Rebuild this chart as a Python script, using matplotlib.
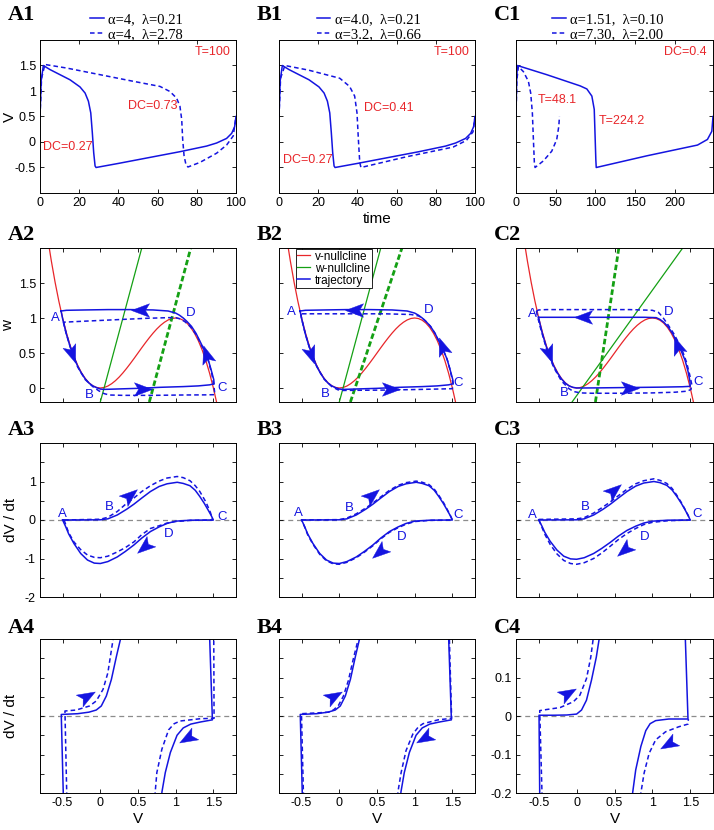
import numpy as np
import matplotlib.pyplot as plt
from matplotlib.path import Path
from matplotlib.markers import MarkerStyle
from matplotlib.transforms import Affine2D

plt.rcParams['font.family'] = ['Liberation Sans', 'DejaVu Sans']

BLUE = '#1414e0'
RED = '#e8262a'
GREEN = '#14a014'
GRAY = '#8c8c8c'

# ---------------- row 1: V(t) ----------------
t_a1 = [0, 0.6, 1.7, 5.1, 10.2, 15.3, 20.4, 23.0, 24.7, 25.9, 26.7, 27.4, 28.1, 28.6, 40, 55, 71.4, 85, 90.1, 95.2, 97.8, 99.3, 100]
v_a1 = [0.5, 1.2, 1.5, 1.42, 1.32, 1.22, 1.08, 0.96, 0.80, 0.57, 0.18, -0.21, -0.47, -0.5, -0.42, -0.31, -0.19, -0.08, -0.02, 0.07, 0.17, 0.3, 0.5]
t_a1d = [0, 0.8, 2.5, 13.6, 30.6, 47.6, 61.2, 66.3, 69.7, 71.4, 72.3, 72.8, 73.5, 74.5, 75.5, 81.6, 90.1, 95.2, 98.6, 100]
v_a1d = [0.5, 1.25, 1.52, 1.45, 1.32, 1.19, 1.09, 0.99, 0.86, 0.70, 0.44, 0.05, -0.27, -0.45, -0.49, -0.40, -0.22, -0.06, 0.12, 0.5]
t_b1d = [0, 0.8, 3, 15, 31, 36, 38.6, 39.8, 40.5, 41.2, 41.8, 65, 88.8, 95.6, 99, 100]
v_b1d = [0.5, 1.25, 1.5, 1.41, 1.25, 1.09, 0.90, 0.57, 0.05, -0.40, -0.5, -0.29, -0.10, 0.03, 0.2, 0.5]
t_c1 = [0, 0.8, 1.7, 38.7, 80.8, 89.2, 95.5, 98.5, 99.7, 100.5, 101, 165, 228.5, 241, 246.5, 248]
v_c1 = [0.5, 1.2, 1.5, 1.32, 1.10, 1.04, 0.90, 0.64, 0.05, -0.35, -0.5, -0.27, -0.06, 0.05, 0.21, 0.5]
t_c1d = [0, 1, 3, 9.3, 15.6, 18.5, 20.6, 21.9, 23.1, 24, 34.5, 45, 51.3, 53.9, 54.7]
v_c1d = [0.5, 1.2, 1.48, 1.38, 1.19, 0.96, 0.57, 0.05, -0.4, -0.5, -0.37, -0.18, 0.05, 0.31, 0.5]

legend1 = [['α=4,  λ=0.21', 'α=4,  λ=2.78'],
           ['α=4.0,  λ=0.21', 'α=3.2,  λ=0.66'],
           ['α=1.51,  λ=0.10', 'α=7.30,  λ=2.00']]
corner_text = ['T=100', 'T=100', 'DC=0.4']
notes1 = [[('DC=0.73', 44.9, 0.70), ('DC=0.27', 1.5, -0.10)],
          [('DC=0.41', 43.4, 0.67), ('DC=0.27', 2.0, -0.35)],
          [('T=48.1', 27.8, 0.83), ('T=224.2', 103.5, 0.41)]]

# ---------------- row 2: phase plane ----------------
null_v = [-0.7, -0.65, -0.6, -0.55, -0.5, -0.45, -0.4, -0.35, -0.3, -0.25, -0.2, -0.15, -0.1, -0.05, 0.0,
          0.05, 0.1, 0.15, 0.2, 0.25, 0.3, 0.35, 0.4, 0.45, 0.5, 0.55, 0.6, 0.65, 0.7, 0.75, 0.8, 0.85, 0.9, 0.95, 1.0,
          1.05, 1.1, 1.15, 1.2, 1.25, 1.3, 1.35, 1.4, 1.45, 1.5, 1.55]
null_w = [2.156, 1.817, 1.512, 1.240, 1.0, 0.790, 0.608, 0.453, 0.324, 0.219, 0.136, 0.074, 0.032, 0.008, 0.0,
          0.007, 0.028, 0.061, 0.104, 0.156, 0.216, 0.282, 0.352, 0.425, 0.5, 0.575, 0.648, 0.718, 0.784, 0.844, 0.896, 0.939, 0.972, 0.993, 1.0,
          0.992, 0.968, 0.926, 0.864, 0.781, 0.676, 0.547, 0.392, 0.210, 0.0, -0.24]

wnull_a = ([0.0, 0.55], [-0.2, 2.0])
wnull_a_d = ([0.65, 1.2], [-0.2, 2.0])
wnull_b = ([0.0, 0.55], [-0.2, 2.0])
wnull_b_d = ([0.147, 0.831], [-0.2, 2.0])
wnull_c = ([-0.06, 1.40], [-0.2, 2.0])
wnull_c_d = ([0.248, 0.557], [-0.2, 2.0])

v_a2 = [-0.52, -0.50, -0.45, -0.40, -0.35, -0.30, -0.25, -0.20, -0.15, -0.10, -0.05, 0.00, 0.05, 0.20, 0.50, 0.80, 1.10, 1.30, 1.45, 1.51, 1.505, 1.47, 1.43, 1.38, 1.33, 1.27, 1.21, 1.15, 1.10, 1.05, 1.00, 0.90, 0.70, 0.40, 0.10, -0.20, -0.45, -0.52]
w_a2 = [1.10, 0.99, 0.77, 0.59, 0.44, 0.31, 0.21, 0.13, 0.07, 0.03, 0.005, -0.015, -0.02, -0.015, -0.005, 0.01, 0.02, 0.03, 0.045, 0.06, 0.12, 0.26, 0.41, 0.54, 0.65, 0.78, 0.88, 0.95, 1.00, 1.04, 1.07, 1.10, 1.115, 1.12, 1.12, 1.115, 1.11, 1.10]
v_a2d = [-0.49, -0.47, -0.45, -0.40, -0.35, -0.30, -0.20, -0.10, -0.02, 0.05, 0.12, 0.30, 0.70, 1.10, 1.40, 1.52, 1.51, 1.48, 1.43, 1.36, 1.28, 1.20, 1.12, 1.05, 1.00, 0.90, 0.60, 0.30, 0.00, -0.30, -0.49]
w_a2d = [0.94, 0.85, 0.77, 0.59, 0.43, 0.30, 0.12, 0.02, -0.04, -0.08, -0.10, -0.105, -0.105, -0.10, -0.098, -0.095, 0.0, 0.2, 0.40, 0.57, 0.75, 0.87, 0.95, 0.99, 1.005, 1.005, 0.995, 0.98, 0.965, 0.95, 0.94]
v_b2d = [-0.51, -0.50, -0.45, -0.40, -0.35, -0.30, -0.20, -0.10, -0.02, 0.05, 0.20, 0.60, 1.00, 1.30, 1.50, 1.51, 1.47, 1.43, 1.38, 1.33, 1.27, 1.21, 1.15, 1.10, 1.05, 0.95, 0.60, 0.20, -0.20, -0.51]
w_b2d = [1.06, 0.99, 0.77, 0.59, 0.44, 0.31, 0.125, 0.02, -0.025, -0.035, -0.033, -0.03, -0.022, -0.015, -0.01, 0.06, 0.26, 0.41, 0.54, 0.65, 0.78, 0.88, 0.95, 1.0, 1.03, 1.05, 1.06, 1.06, 1.06, 1.06]
v_c2 = [-0.503, -0.48, -0.45, -0.40, -0.35, -0.30, -0.25, -0.20, -0.15, -0.10, -0.05, 0.00, 0.05, 0.30, 0.70, 1.10, 1.40, 1.50, 1.495, 1.47, 1.43, 1.38, 1.33, 1.27, 1.21, 1.15, 1.10, 1.05, 0.90, 0.50, 0.00, -0.30, -0.503]
w_c2 = [1.01, 0.90, 0.77, 0.59, 0.44, 0.31, 0.21, 0.13, 0.07, 0.03, 0.01, 0.0, 0.0, 0.002, 0.007, 0.012, 0.018, 0.024, 0.10, 0.24, 0.40, 0.53, 0.64, 0.77, 0.87, 0.94, 0.98, 1.005, 1.01, 1.01, 1.01, 1.01, 1.01]
v_c2d = [-0.53, -0.52, -0.48, -0.44, -0.40, -0.35, -0.30, -0.20, -0.10, -0.04, 0.05, 0.20, 0.60, 1.00, 1.30, 1.46, 1.51, 1.52, 1.49, 1.45, 1.40, 1.34, 1.28, 1.22, 1.17, 1.13, 1.08, 1.00, 0.70, 0.30, -0.10, -0.40, -0.50, -0.53]
w_c2d = [1.10, 1.04, 0.87, 0.72, 0.57, 0.42, 0.29, 0.10, -0.01, -0.05, -0.07, -0.075, -0.075, -0.07, -0.06, -0.045, -0.02, 0.05, 0.20, 0.37, 0.52, 0.66, 0.78, 0.88, 0.96, 1.02, 1.08, 1.11, 1.12, 1.12, 1.12, 1.12, 1.115, 1.10]

arrows2 = [[(0.52, 1.12, 180), (-0.37, 0.49, -70), (0.56, -0.01, 0), (1.40, 0.48, 108)],
           [(0.19, 1.115, 180), (-0.37, 0.47, -70), (0.69, -0.01, 0), (1.36, 0.60, 110)],
           [(0.09, 1.01, 180), (-0.36, 0.49, -70), (0.71, 0.005, 0), (1.33, 0.62, 110)]]
letters2 = [[('A', -0.59, 1.0), ('B', -0.15, -0.105), ('C', 1.62, 0.0), ('D', 1.2, 1.07)],
            [('A', -0.63, 1.08), ('B', -0.18, -0.087), ('C', 1.58, 0.07), ('D', 1.18, 1.115)],
            [('A', -0.59, 1.06), ('B', -0.16, -0.075), ('C', 1.60, 0.08), ('D', 1.21, 1.085)]]

# ---------------- row 3: dV/dt vs V ----------------
v_loop = [-0.5, 0.0, 0.1, 0.225, 0.35, 0.445, 0.55, 0.665, 0.78, 0.885, 1.02, 1.1, 1.19, 1.26, 1.32, 1.38, 1.43, 1.47, 1.5,
          1.2, 1.0, 0.885, 0.78, 0.665, 0.55, 0.445, 0.33, 0.225, 0.1, 0.0, -0.08, -0.17, -0.26, -0.35, -0.42, -0.46, -0.5]
dv_a3 = [0.0, 0.005, 0.03, 0.13, 0.28, 0.41, 0.57, 0.74, 0.87, 0.94, 0.98, 0.95, 0.89, 0.77, 0.61, 0.43, 0.26, 0.12, 0.0,
         -0.005, -0.03, -0.09, -0.18, -0.30, -0.47, -0.65, -0.82, -0.96, -1.08, -1.13, -1.12, -1.04, -0.87, -0.61, -0.36, -0.17, 0.0]
v_a3d = [-0.48, 0.0, 0.1, 0.225, 0.33, 0.445, 0.55, 0.665, 0.78, 0.885, 1.02, 1.1, 1.19, 1.26, 1.32, 1.40, 1.46, 1.49,
         1.2, 1.0, 0.885, 0.78, 0.665, 0.55, 0.445, 0.33, 0.225, 0.1, 0.0, -0.08, -0.17, -0.26, -0.35, -0.42, -0.45, -0.48]
dv_a3d = [0.0, 0.02, 0.07, 0.22, 0.40, 0.57, 0.74, 0.89, 1.01, 1.09, 1.13, 1.10, 1.02, 0.89, 0.74, 0.47, 0.20, 0.0,
          -0.01, -0.04, -0.08, -0.15, -0.22, -0.38, -0.57, -0.72, -0.83, -0.94, -0.98, -0.97, -0.91, -0.77, -0.57, -0.33, -0.17, 0.0]
dv_b3d = [0.0, 0.01, 0.05, 0.16, 0.31, 0.44, 0.60, 0.77, 0.90, 0.97, 1.01, 0.98, 0.92, 0.80, 0.64, 0.46, 0.28, 0.13, 0.0,
          -0.01, -0.04, -0.11, -0.20, -0.32, -0.49, -0.67, -0.84, -0.98, -1.10, -1.15, -1.14, -1.06, -0.89, -0.63, -0.38, -0.18, 0.0]
dv_c3 = [0.0, 0.005, 0.03, 0.13, 0.28, 0.41, 0.57, 0.74, 0.88, 0.96, 1.0, 0.97, 0.90, 0.78, 0.62, 0.44, 0.27, 0.12, 0.0,
         -0.005, -0.03, -0.08, -0.16, -0.27, -0.42, -0.58, -0.74, -0.87, -0.98, -1.02, -1.01, -0.94, -0.78, -0.55, -0.32, -0.15, 0.0]
dv_c3d = [0.015, 0.03, 0.06, 0.18, 0.34, 0.47, 0.63, 0.80, 0.94, 1.02, 1.07, 1.03, 0.95, 0.82, 0.65, 0.46, 0.28, 0.13, 0.0,
          -0.02, -0.06, -0.12, -0.22, -0.35, -0.51, -0.68, -0.86, -1.0, -1.11, -1.15, -1.13, -1.05, -0.88, -0.63, -0.37, -0.18, 0.015]

arrows3 = [[(0.40, 0.65, 40), (0.58, -0.70, 220)],
           [(0.44, 0.65, 40), (0.53, -0.83, 220)],
           [(0.49, 0.78, 40), (0.62, -0.78, 220)]]
letters3 = [[('A', -0.5, 0.16), ('B', 0.115, 0.33), ('C', 1.61, 0.09), ('D', 0.906, -0.37)],
            [('A', -0.54, 0.17), ('B', 0.13, 0.30), ('C', 1.57, 0.13), ('D', 0.83, -0.43)],
            [('A', -0.59, 0.13), ('B', 0.12, 0.33), ('C', 1.59, 0.16), ('D', 0.90, -0.43)]]

# ---------------- row 4: zoom of dV/dt vs V ----------------
up_v_a4 = [-0.485, -0.518, -0.30, -0.15, -0.054, 0.013, 0.08, 0.147, 0.214, 0.268, 0.285]
up_y_a4 = [-0.25, 0.004, 0.006, 0.01, 0.0155, 0.026, 0.052, 0.095, 0.155, 0.2, 0.22]
lo_v_a4 = [0.81, 0.817, 0.862, 0.929, 1.018, 1.10, 1.2, 1.33, 1.487, 1.451, 1.448]
lo_y_a4 = [-0.25, -0.198, -0.147, -0.095, -0.050, -0.031, -0.021, -0.0155, -0.010, 0.2, 0.25]
up_v_a4d = [-0.44, -0.469, -0.32, -0.143, -0.054, 0.036, 0.10, 0.17, 0.18]
up_y_a4d = [-0.25, 0.013, 0.0155, 0.026, 0.039, 0.069, 0.112, 0.2, 0.22]
lo_v_a4d = [0.72, 0.728, 0.75, 0.817, 0.906, 0.98, 1.06, 1.33, 1.509, 1.505, 1.505]
lo_y_a4d = [-0.25, -0.198, -0.147, -0.086, -0.036, -0.020, -0.013, -0.007, -0.006, 0.2, 0.25]
up_v_b4d = [-0.47, -0.502, -0.3, -0.14, -0.075, -0.01, 0.055, 0.12, 0.19, 0.252, 0.265]
up_y_b4d = [-0.25, 0.006, 0.008, 0.01, 0.016, 0.028, 0.052, 0.092, 0.152, 0.2, 0.22]
lo_v_b4d = [0.77, 0.777, 0.82, 0.885, 0.975, 1.05, 1.11, 1.31, 1.49, 1.46, 1.458]
lo_y_b4d = [-0.25, -0.198, -0.147, -0.09, -0.047, -0.028, -0.02, -0.01, -0.006, 0.2, 0.25]
up_v_c4 = [-0.485, -0.496, -0.3, -0.13, 0.0, 0.065, 0.13, 0.196, 0.26, 0.296, 0.305]
up_y_c4 = [-0.25, 0.002, 0.002, 0.0026, 0.005, 0.0155, 0.041, 0.093, 0.153, 0.198, 0.22]
lo_v_c4 = [0.73, 0.739, 0.78, 0.848, 0.913, 0.97, 1.043, 1.217, 1.47, 1.435, 1.432]
lo_y_c4 = [-0.25, -0.2, -0.14, -0.079, -0.038, -0.020, -0.012, -0.0078, -0.0078, 0.2, 0.25]
up_v_c4d = [-0.45, -0.487, -0.39, -0.217, -0.043, 0.043, 0.13, 0.187, 0.217, 0.225]
up_y_c4d = [-0.25, 0.014, 0.017, 0.022, 0.037, 0.054, 0.097, 0.153, 0.198, 0.22]
lo_v_c4d = [0.84, 0.848, 0.891, 0.957, 1.043, 1.174, 1.348, 1.47, 1.475]
lo_y_c4d = [-0.25, -0.2, -0.148, -0.097, -0.062, -0.041, -0.028, -0.021, -0.008]

arrows4 = [[(-0.18, 0.053, 30), (1.15, -0.056, 210)],
           [(-0.07, 0.052, 30), (1.13, -0.056, 210)],
           [(-0.11, 0.059, 30), (1.20, -0.072, 210)]]

v_ticks = [-0.5, 0, 0.5, 1, 1.5]
v_ticklabels = ['-0.5', '0', '0.5', '1', '1.5']

# ---------------- layout (pixels) ----------------
W, H = 714, 830
fig = plt.figure(figsize=(W / 100, H / 100), dpi=100)
col_left = [40, 279, 516]
col_width = [196, 196, 197]
row_top = [40, 248, 443, 639]
row_bot = [193, 402, 597, 793]
panel_x = [8, 257, 494]
panel_y = [15, 235, 430, 628]

SOLID = dict(color=BLUE, lw=1.1)
DASH = dict(color=BLUE, lw=1.1, ls=(0, (3, 2)))

# notched arrowhead pointing along +x, centred on the origin
HEAD = Path([(1, 0), (-1, 0.75), (-0.55, 0), (-1, -0.75), (1, 0)],
            [Path.MOVETO, Path.LINETO, Path.LINETO, Path.LINETO, Path.CLOSEPOLY])


def make_ax(r, c):
    rect = [col_left[c] / W, 1 - row_bot[r] / H, col_width[c] / W, (row_bot[r] - row_top[r]) / H]
    ax = fig.add_axes(rect)
    ax.tick_params(direction='in', top=True, right=True, length=3, width=0.6, labelsize=9, pad=3)
    for s in ax.spines.values():
        s.set_linewidth(0.7)
    fig.text(panel_x[c] / W, 1 - panel_y[r] / H, 'ABC'[c] + str(r + 1), fontsize=16, fontweight='bold',
             family=['Liberation Serif'], ha='left', va='center')
    return ax


def arrowhead(ax, x, y, ang):
    m = MarkerStyle(HEAD, transform=Affine2D().rotate_deg(ang))
    ax.plot([x], [y], ls='none', marker=m, ms=13, color=BLUE, mec=BLUE, mew=0.3, clip_on=False, zorder=5)


# row 1
series1 = [((t_a1, v_a1), (t_a1d, v_a1d)), ((t_a1, v_a1), (t_b1d, v_b1d)), ((t_c1, v_c1), (t_c1d, v_c1d))]
leg_x = [0.255, 0.192, 0.181]
for c in range(3):
    ax = make_ax(0, c)
    (ts, vs), (td, vd) = series1[c]
    l1, = ax.plot(ts, vs, **SOLID)
    l2, = ax.plot(td, vd, **DASH)
    ax.set_ylim(-1, 2)
    ax.set_yticks([-0.5, 0, 0.5, 1, 1.5])
    if c == 2:
        ax.set_xlim(0, 248)
        ax.set_xticks([0, 50, 100, 150, 200])
    else:
        ax.set_xlim(0, 100)
        ax.set_xticks([0, 20, 40, 60, 80, 100])
    if c == 0:
        ax.set_yticklabels(['-0.5', '0', '0.5', '1', '1.5'])
        ax.set_ylabel('V', fontsize=11)
        ax.yaxis.set_label_coords(-0.12, 0.5)
    else:
        ax.set_yticklabels([])
    if c == 1:
        ax.set_xlabel('time', fontsize=11, labelpad=2)
    ax.text(0.97, 0.92, corner_text[c], transform=ax.transAxes, color=RED, fontsize=9, ha='right', va='center')
    for s, x, y in notes1[c]:
        ax.text(x, y, s, color=RED, fontsize=9, ha='left', va='center')
    ax.legend([l1, l2], legend1[c], loc='lower left', bbox_to_anchor=(leg_x[c], 0.99), frameon=False,
              prop={'family': 'Liberation Serif', 'size': 10.5}, handlelength=0.95, handletextpad=0.3,
              labelspacing=0.12, borderpad=0, borderaxespad=0)

# row 2
traj2 = [((v_a2, w_a2), (v_a2d, w_a2d)), ((v_a2, w_a2), (v_b2d, w_b2d)), ((v_c2, w_c2), (v_c2d, w_c2d))]
wnulls = [(wnull_a, wnull_a_d), (wnull_b, wnull_b_d), (wnull_c, wnull_c_d)]
for c in range(3):
    ax = make_ax(1, c)
    hv, = ax.plot(null_v, null_w, color=RED, lw=0.9)
    ws, wd = wnulls[c]
    hw, = ax.plot(ws[0], ws[1], color=GREEN, lw=0.9)
    ax.plot(wd[0], wd[1], color=GREEN, lw=2.0, ls=(0, (2, 1)))
    (vs, ws2), (vd, wd2) = traj2[c]
    ht, = ax.plot(vs, ws2, **SOLID)
    ax.plot(vd, wd2, **DASH)
    for x, y, ang in arrows2[c]:
        arrowhead(ax, x, y, ang)
    for s, x, y in letters2[c]:
        ax.text(x, y, s, color=BLUE, fontsize=9.5, ha='center', va='center')
    ax.set_xlim(-0.8, 1.8)
    ax.set_ylim(-0.2, 2.0)
    ax.set_xticks(v_ticks)
    ax.set_xticklabels([])
    ax.set_yticks([0, 0.5, 1, 1.5])
    if c == 0:
        ax.set_yticklabels(['0', '0.5', '1', '1.5'])
        ax.set_ylabel('w', fontsize=11)
        ax.yaxis.set_label_coords(-0.13, 0.5)
    else:
        ax.set_yticklabels([])
    if c == 1:
        leg = ax.legend([hv, hw, ht], ['v-nullcline', 'w-nullcline', 'trajectory'], loc='upper left',
                        bbox_to_anchor=(0.085, 0.995), fontsize=8.5, handlelength=1.1, handletextpad=0.4,
                        labelspacing=0.0, borderpad=0.15, borderaxespad=0, fancybox=False, framealpha=1)
        leg.get_frame().set_edgecolor('black')
        leg.get_frame().set_linewidth(0.6)

# row 3
loops3 = [((v_loop, dv_a3), (v_a3d, dv_a3d)), ((v_loop, dv_a3), (v_loop, dv_b3d)), ((v_loop, dv_c3), (v_loop, dv_c3d))]
for c in range(3):
    ax = make_ax(2, c)
    ax.axhline(0, color=GRAY, lw=0.9, ls=(0, (4, 3)), zorder=1)
    (vs, ys), (vd, yd) = loops3[c]
    ax.plot(vs, ys, **SOLID)
    ax.plot(vd, yd, **DASH)
    for x, y, ang in arrows3[c]:
        arrowhead(ax, x, y, ang)
    for s, x, y in letters3[c]:
        ax.text(x, y, s, color=BLUE, fontsize=9.5, ha='center', va='center')
    ax.set_xlim(-0.8, 1.8)
    ax.set_ylim(-2, 2)
    ax.set_xticks(v_ticks)
    ax.set_xticklabels([])
    ax.set_yticks([-2, -1.5, -1, -0.5, 0, 0.5, 1, 1.5])
    if c == 0:
        ax.set_yticklabels(['-2', '', '-1', '', '0', '', '1', ''])
        ax.set_ylabel('dV / dt', fontsize=11)
        ax.yaxis.set_label_coords(-0.11, 0.5)
    else:
        ax.set_yticklabels([])

# row 4
segs4 = [[(up_v_a4, up_y_a4, SOLID), (lo_v_a4, lo_y_a4, SOLID), (up_v_a4d, up_y_a4d, DASH), (lo_v_a4d, lo_y_a4d, DASH)],
         [(up_v_a4, up_y_a4, SOLID), (lo_v_a4, lo_y_a4, SOLID), (up_v_b4d, up_y_b4d, DASH), (lo_v_b4d, lo_y_b4d, DASH)],
         [(up_v_c4, up_y_c4, SOLID), (lo_v_c4, lo_y_c4, SOLID), (up_v_c4d, up_y_c4d, DASH), (lo_v_c4d, lo_y_c4d, DASH)]]
for c in range(3):
    ax = make_ax(3, c)
    ax.axhline(0, color=GRAY, lw=0.9, ls=(0, (4, 3)), zorder=1)
    for xs, ys, st in segs4[c]:
        ax.plot(xs, ys, **st)
    for x, y, ang in arrows4[c]:
        arrowhead(ax, x, y, ang)
    ax.set_xlim(-0.8, 1.8)
    ax.set_ylim(-0.2, 0.2)
    ax.set_xticks(v_ticks)
    ax.set_xticklabels(v_ticklabels)
    ax.set_xlabel('V', fontsize=11, labelpad=2)
    ax.set_yticks([-0.2, -0.15, -0.1, -0.05, 0, 0.05, 0.1, 0.15])
    if c == 2:
        ax.set_yticklabels(['-0.2', '', '-0.1', '', '0', '', '0.1', ''])
    else:
        ax.set_yticklabels([])
    if c == 0:
        ax.set_ylabel('dV / dt', fontsize=11)
        ax.yaxis.set_label_coords(-0.11, 0.5)

fig.savefig('out.png', dpi=100)
